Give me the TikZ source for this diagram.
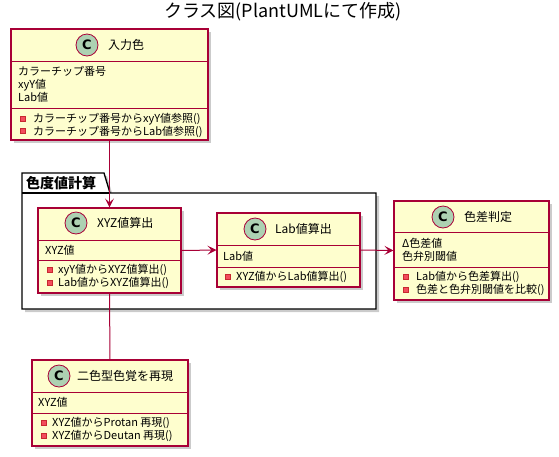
\documentclass[tikz,border=0pt]{standalone}
\usepackage{fontspec}
\setmainfont{Noto Sans CJK JP}
\newfontfamily\spotfont{DejaVu Sans}
\usepackage{tikz}
\usetikzlibrary{arrows.meta, shadows}
\definecolor{classfill}{RGB}{254, 254, 206}
\definecolor{classred}{RGB}{168, 0, 54}
\definecolor{spotgreen}{RGB}{173, 209, 178}
\definecolor{privred}{RGB}{200, 41, 48}
\definecolor{privfill}{RGB}{242, 77, 92}

\tikzset{
    classbox/.style={draw=classred, fill=classfill, line width=1.1pt, inner sep=0pt,
        drop shadow={shadow xshift=3pt, shadow yshift=-3pt, fill=black!45, opacity=0.45}},
    divider/.style={classred, line width=1pt},
    spot/.style={circle, draw=classred, fill=spotgreen, line width=0.8pt, minimum size=22pt,
        inner sep=0pt, font=\spotfont\bfseries\fontsize{13}{13}\selectfont},
    cname/.style={anchor=west, inner sep=0pt, font=\fontsize{12}{14}\selectfont},
    members/.style={anchor=west, inner sep=0pt, align=left, font=\fontsize{11}{13}\selectfont},
    priv/.style={draw=privred, fill=privfill, line width=0.5pt},
    link/.style={classred, line width=1pt},
}

\begin{document}
\begin{tikzpicture}[x=1pt, y=-1pt]
    \useasboundingbox (0,0) rectangle (559,456);

    % Title
    \node[font=\fontsize{18}{21}\selectfont] (title) at (283,12) {クラス図(PlantUMLにて作成)};

    % Package
    \draw[line width=1.3pt, fill=white,
        drop shadow={shadow xshift=3pt, shadow yshift=-3pt, fill=black!45, opacity=0.45}]
        (22,173) -- (104,173) -- (110,193) -- (376,193) -- (376,309) -- (22,309) -- cycle;
    \draw[line width=1.3pt] (22,193) -- (110,193);
    \node[font=\bfseries\fontsize{14}{16}\selectfont, anchor=west, inner sep=0pt] (pkg) at (26,183) {色度値計算};

    % Class: input colour
    \node[classbox, minimum width=197pt, minimum height=111pt] (in) at (109.5,84.5) {};
    \draw[divider] (11,61) -- (208,61);
    \draw[divider] (11,108) -- (208,108);
    \node[spot] (in-c) at (87,45) {C};
    \node[cname] (in-name) at (108,45) {入力色};
    \node[members] (in-attr) at (18,84) {カラーチップ番号\\xyY値\\Lab値};
    \filldraw[priv] (20,116.5) rectangle +(5,5);
    \filldraw[priv] (20,128.5) rectangle +(5,5);
    \node[members] (in-ops) at (33,125) {カラーチップ番号からxyY値参照()\\カラーチップ番号からLab値参照()};

    % Class: XYZ
    \node[classbox, minimum width=143pt, minimum height=85pt] (xyz) at (109.5,250.5) {};
    \draw[divider] (38,240) -- (181,240);
    \draw[divider] (38,260) -- (181,260);
    \node[spot] (xyz-c) at (76,223) {C};
    \node[cname] (xyz-name) at (97,223) {XYZ値算出};
    \node[members] (xyz-attr) at (45,250) {XYZ値};
    \filldraw[priv] (47,267.5) rectangle +(5,5);
    \filldraw[priv] (47,280.5) rectangle +(5,5);
    \node[members] (xyz-ops) at (58,276.5) {xyY値からXYZ値算出()\\Lab値からXYZ値算出()};

    % Class: Lab
    \node[classbox, minimum width=143pt, minimum height=74pt] (lab) at (288.5,250) {};
    \draw[divider] (217,245) -- (360,245);
    \draw[divider] (217,267) -- (360,267);
    \node[spot] (lab-c) at (255,229) {C};
    \node[cname] (lab-name) at (275,229) {Lab値算出};
    \node[members] (lab-attr) at (223,256) {Lab値};
    \filldraw[priv] (225,274.5) rectangle +(5,5);
    \node[members] (lab-ops) at (236,277) {XYZ値からLab値算出()};

    % Class: colour difference
    \node[classbox, minimum width=155pt, minimum height=99pt] (diff) at (471.5,250.5) {};
    \draw[divider] (394,232) -- (549,232);
    \draw[divider] (394,267) -- (549,267);
    \node[spot] (diff-c) at (443,217) {C};
    \node[cname] (diff-name) at (464,217) {色差判定};
    \node[members] (diff-attr) at (402,249.5) {Δ色差値\\色弁別閾値};
    \filldraw[priv] (403,274.5) rectangle +(5,5);
    \filldraw[priv] (403,287.5) rectangle +(5,5);
    \node[members] (diff-ops) at (416,283.5) {Lab値から色差算出()\\色差と色弁別閾値を比較()};

    % Class: dichromat
    \node[classbox, minimum width=156pt, minimum height=86pt] (dich) at (110,403) {};
    \draw[divider] (32,392) -- (188,392);
    \draw[divider] (32,413) -- (188,413);
    \node[spot] (dich-c) at (59,376) {C};
    \node[cname] (dich-name) at (77,376) {二色型色覚を再現};
    \node[members] (dich-attr) at (38,402) {XYZ値};
    \filldraw[priv] (41,420.5) rectangle +(5,5);
    \filldraw[priv] (41,433.5) rectangle +(5,5);
    \node[members] (dich-ops) at (52,429.5) {XYZ値からProtan 再現()\\XYZ値からDeutan 再現()};

    % Links
    \draw[link, -{Stealth[length=9pt, width=9pt, inset=4pt]}] (in.south) -- (xyz.north);
    \draw[link, -{Stealth[length=9pt, width=9pt, inset=4pt]}] (xyz.east) -- (lab.west);
    \draw[link, -{Stealth[length=9pt, width=9pt, inset=4pt]}] (lab.east) -- (diff.west);
    \draw[link] (xyz.south) -- (dich.north);
\end{tikzpicture}
\end{document}
